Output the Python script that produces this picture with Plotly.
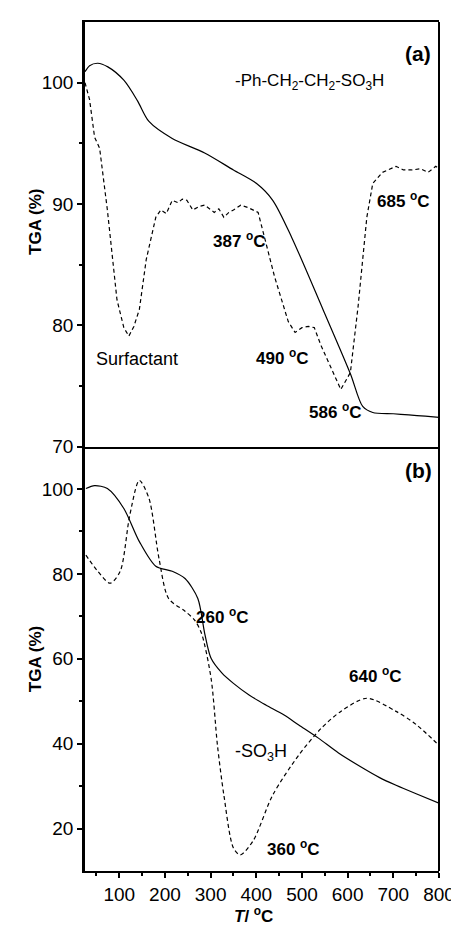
import plotly.graph_objects as go
from plotly.subplots import make_subplots

# Panel (a): -Ph-CH2-CH2-SO3H (solid)
a_solid_T = [25, 35, 53, 75, 110, 140, 165, 216, 287, 350, 400, 436, 478, 546, 606, 633, 655, 700, 734, 770, 800]
a_solid_W = [100.9, 101.4, 101.6, 101.3, 100.2, 98.5, 96.8, 95.4, 94.2, 92.8, 91.7, 90.3, 87.2, 81.3, 76.0, 73.3, 72.8, 72.7, 72.6, 72.5, 72.4]

# Panel (a): Surfactant (dashed)
a_dash_T = [25, 35, 46, 57, 74, 95, 110, 121, 132, 144, 159, 180, 191, 203, 216, 229, 238, 248, 261, 275, 287, 298, 308, 318, 329, 340, 350, 366, 382, 404, 421, 440, 457, 470, 485, 500, 514, 527, 542, 560, 585, 606, 623, 642, 655, 676, 706, 722, 740, 760, 776, 793, 800]
a_dash_W = [100.0, 98.6, 95.5, 94.6, 89.5, 82.1, 79.8, 79.1, 79.9, 81.3, 85.4, 88.9, 89.5, 89.2, 90.3, 90.1, 90.4, 90.3, 89.5, 89.8, 89.9, 89.6, 89.3, 89.6, 88.9, 89.3, 89.5, 89.9, 89.7, 89.3, 86.8, 84.0, 81.9, 80.3, 79.4, 79.8, 79.9, 79.8, 78.3, 76.8, 74.7, 76.1, 81.6, 88.9, 91.7, 92.6, 93.1, 92.8, 92.8, 92.9, 92.6, 93.1, 92.9]

# Panel (b): -SO3H (solid)
b_solid_T = [27, 46, 74, 110, 144, 180, 216, 244, 272, 287, 301, 325, 350, 385, 421, 460, 493, 536, 580, 634, 670, 706, 750, 800]
b_solid_W = [100.1, 100.8, 100.1, 95.4, 87.6, 81.8, 80.6, 78.9, 74.2, 66.0, 60.1, 56.6, 54.2, 51.4, 49.1, 46.8, 44.4, 41.3, 37.8, 34.2, 32.0, 30.2, 28.2, 26.0]

# Panel (b): dashed
b_dash_T = [27, 53, 80, 102, 123, 144, 165, 187, 208, 244, 265, 280, 301, 315, 329, 350, 365, 393, 436, 493, 542, 585, 642, 706, 750, 800]
b_dash_W = [84.4, 80.6, 77.8, 80.6, 93.8, 102.0, 97.8, 83.6, 74.2, 71.2, 69.1, 66.0, 55.4, 39.6, 27.9, 15.4, 13.8, 17.1, 27.9, 37.3, 43.6, 47.6, 50.7, 47.6, 44.5, 39.6]

x_ticks = [100, 200, 300, 400, 500, 600, 700, 800]
x_minor = [50, 150, 250, 350, 450, 550, 650, 750]
a_yticks = [70, 80, 90, 100]
a_yminor = [75, 85, 95]
b_yticks = [20, 40, 60, 80, 100]
b_yminor = [30, 50, 70, 90]

FONT = "Liberation Sans"

fig = make_subplots(rows=2, cols=1, shared_xaxes=True, vertical_spacing=0)

line_solid = dict(color="black", width=1.2)
line_dash = dict(color="black", width=1.2, dash="4px,3px")

fig.add_trace(go.Scatter(x=a_solid_T, y=a_solid_W, mode="lines", line=dict(**line_solid, shape="spline", smoothing=0.8), showlegend=False), row=1, col=1)
fig.add_trace(go.Scatter(x=a_dash_T, y=a_dash_W, mode="lines", line=line_dash, showlegend=False), row=1, col=1)
fig.add_trace(go.Scatter(x=b_solid_T, y=b_solid_W, mode="lines", line=dict(**line_solid, shape="spline", smoothing=0.8), showlegend=False), row=2, col=1)
fig.add_trace(go.Scatter(x=b_dash_T, y=b_dash_W, mode="lines", line=dict(**line_dash, shape="spline", smoothing=0.8), showlegend=False), row=2, col=1)

tickfont = dict(family=FONT, size=19, color="black")
minor_style = dict(ticks="outside", ticklen=3, tickwidth=1.5, tickcolor="black")

fig.update_layout(
    width=459, height=929,
    margin=dict(l=77, r=17, t=13, b=66),
    plot_bgcolor="white", paper_bgcolor="white",
    font=dict(family=FONT, color="black", size=19),
    xaxis=dict(range=[25, 800], showgrid=False, zeroline=False, showline=True, linecolor="black", linewidth=2,
               mirror=True, showticklabels=False, ticks=""),
    xaxis2=dict(range=[25, 800], showgrid=False, zeroline=False, showline=True, linecolor="black", linewidth=2,
                tickmode="array", tickvals=x_ticks, ticks="outside", ticklen=5, tickwidth=1.5, tickcolor="black",
                tickfont=tickfont, minor=dict(tickvals=x_minor, **minor_style)),
    yaxis=dict(domain=[0.5, 1.0], range=[70, 105], showgrid=False, zeroline=False, showline=True, linecolor="black",
               linewidth=2.5, tickmode="array", tickvals=a_yticks, ticks="outside", ticklen=5, tickwidth=1.5,
               tickcolor="black", tickfont=tickfont, minor=dict(tickvals=a_yminor, **minor_style)),
    yaxis2=dict(domain=[0.0, 0.5], range=[10, 110], showgrid=False, zeroline=False, showline=True, linecolor="black",
                linewidth=2.5, tickmode="array", tickvals=b_yticks, ticks="outside", ticklen=5, tickwidth=1.5,
                tickcolor="black", tickfont=tickfont, minor=dict(tickvals=b_yminor, **minor_style)),
)

# right border
fig.add_shape(type="line", xref="paper", yref="paper", x0=1, x1=1, y0=0, y1=1, line=dict(color="black", width=2))

def ann(text, x, y, xref, yref, size=17, bold=False, **kw):
    t = f"<b>{text}</b>" if bold else text
    fig.add_annotation(text=t, x=x, y=y, xref=xref, yref=yref, showarrow=False,
                       xanchor="center", yanchor="middle",
                       font=dict(family=FONT, size=size, color="black"), **kw)

ann("(a)", 755, 102.4, "x", "y", size=21, bold=True)
ann("-Ph-CH<sub>2</sub>-CH<sub>2</sub>-SO<sub>3</sub>H", 516, 100.05, "x", "y", size=17)
ann("685 <sup>o</sup>C", 723, 90.3, "x", "y", size=17, bold=True)
ann("387 <sup>o</sup>C", 363, 87.0, "x", "y", size=17, bold=True)
ann("Surfactant", 138, 77.2, "x", "y", size=18)
ann("490 <sup>o</sup>C", 457, 77.4, "x", "y", size=17, bold=True)
ann("586 <sup>o</sup>C", 574, 72.9, "x", "y", size=17, bold=True)

ann("(b)", 755, 104.4, "x2", "y2", size=21, bold=True)
ann("260 <sup>o</sup>C", 325, 70.0, "x2", "y2", size=17, bold=True)
ann("640 <sup>o</sup>C", 661, 56.1, "x2", "y2", size=17, bold=True)
ann("-SO<sub>3</sub>H", 410, 37.8, "x2", "y2", size=18)
ann("360 <sup>o</sup>C", 482, 15.4, "x2", "y2", size=17, bold=True)

# axis titles
ann("TGA (%)", -0.14, 0.765, "paper", "paper", size=17, bold=True, textangle=-90)
ann("TGA (%)", -0.14, 0.25, "paper", "paper", size=17, bold=True, textangle=-90)
ann("<i>T</i>/ <sup>o</sup>C", 0.475, -0.052, "paper", "paper", size=17, bold=True)

fig.write_html("out.html")
